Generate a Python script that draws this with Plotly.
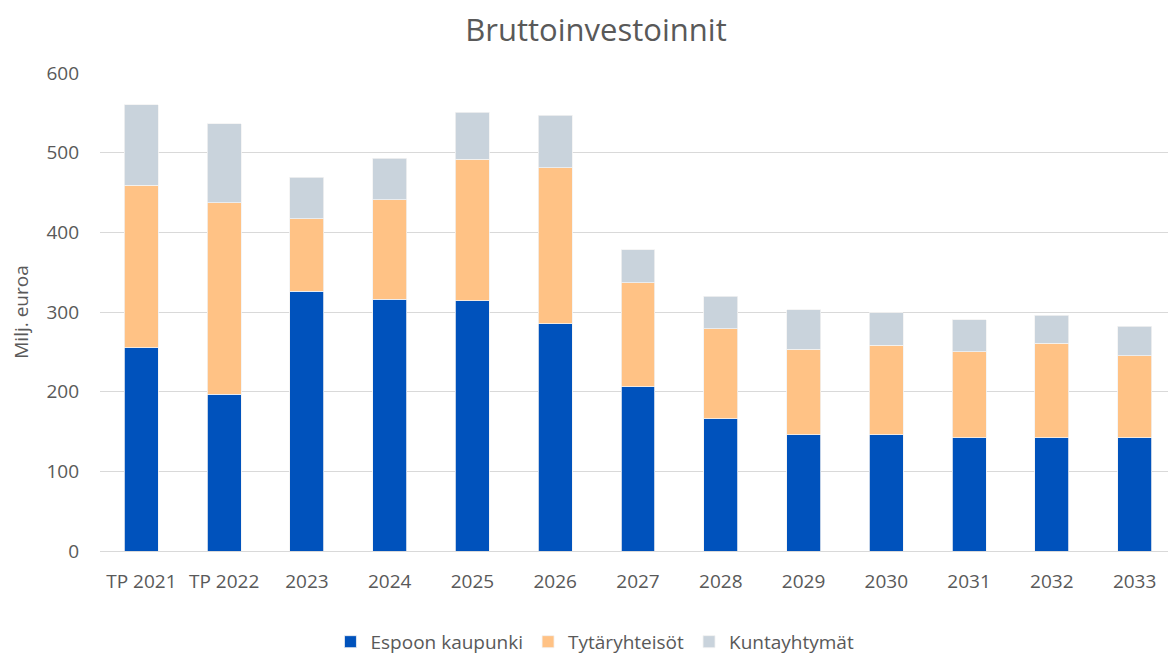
import plotly.graph_objects as go

categories = ["TP 2021", "TP 2022", "2023", "2024", "2025", "2026", "2027",
              "2028", "2029", "2030", "2031", "2032", "2033"]
espoo = [255, 197, 326, 316, 314, 285, 206, 166, 146, 146, 142, 142, 142]
tytar = [204, 240, 91, 125, 178, 196, 131, 113, 107, 112, 108, 119, 103]
kunta = [101, 99, 52, 52, 59, 66, 41, 41, 50, 41, 40, 35, 37]
y_ticks = [0, 100, 200, 300, 400, 500, 600]

FONT = "Liberation Sans Narrow, Arial Narrow, Open Sans, sans-serif"
GREY = "#595959"

fig = go.Figure()
for name, vals, col in [("Espoon kaupunki", espoo, "#0052BC"),
                        ("Tytäryhteisöt", tytar, "#FFC285"),
                        ("Kuntayhtymät", kunta, "#C9D3DC")]:
    fig.add_trace(go.Bar(x=categories, y=vals, name=name,
                         marker=dict(color=col, line=dict(color="#F2F2F2", width=0.8))))

fig.update_layout(
    barmode="stack",
    bargap=0.59,
    width=1176, height=661,
    paper_bgcolor="white", plot_bgcolor="white",
    margin=dict(l=92, r=8, t=65, b=118, autoexpand=False),
    font=dict(family=FONT, color=GREY, size=19),
    title=dict(text="Bruttoinvestoinnit", x=0.5, xanchor="center",
               y=0.966, yanchor="middle", font=dict(size=31, color=GREY, family=FONT)),
    legend=dict(orientation="h", x=0.46, xanchor="center", y=-0.19, yanchor="middle",
                font=dict(size=19, color=GREY), traceorder="normal",
                itemwidth=30, borderwidth=0),
    xaxis=dict(showgrid=False, showline=True, linecolor="#D9D9D9", linewidth=1,
               tickfont=dict(size=19, color=GREY), ticks="outside", ticklen=13,
               tickcolor="rgba(0,0,0,0)", automargin=False),
    yaxis=dict(range=[0, 600], tickvals=y_ticks, showgrid=True, gridcolor="#D9D9D9",
               gridwidth=1.3, zeroline=False, tickfont=dict(size=19, color=GREY),
               ticks="", ticklabelstandoff=20, automargin=False,
               title=dict(text="Milj. euroa", font=dict(size=19, color=GREY), standoff=13)),
)

fig.write_html("out.html")
